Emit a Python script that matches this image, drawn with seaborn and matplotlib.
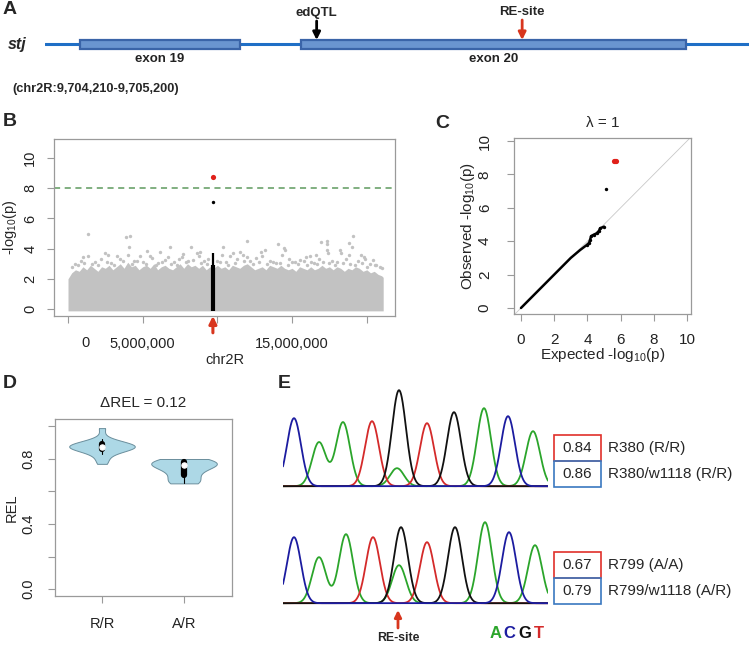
import numpy as np
import pandas as pd
import matplotlib
matplotlib.use("Agg")
import matplotlib.pyplot as plt
import seaborn as sns
from matplotlib.patches import Rectangle

sns.set_style("white")
plt.rcParams["font.family"] = ["Liberation Sans", "DejaVu Sans"]
plt.rcParams["mathtext.fontset"] = "custom"
plt.rcParams["mathtext.rm"] = "Liberation Sans"
plt.rcParams["mathtext.it"] = "Liberation Sans:italic"
plt.rcParams["mathtext.bf"] = "Liberation Sans:bold"

# ---------------- data ----------------
# Panel A: gene model
gene_name = "stj"
region_start, region_end = 9704210, 9705200
region_text = "(chr2R:9,704,210-9,705,200)"
exon_names = ["exon 19", "exon 20"]
exon_starts = [9704259, 9704570]
exon_ends = [9704484, 9705111]
edqtl_pos = 9704592
resite_pos = 9704881

# Panel B: Manhattan plot (chr2R), dense bulk envelope + sparse points
bulk_pos_mb = [0.0, 0.25, 0.5, 0.75, 1.0, 1.25, 1.5, 1.75, 2.0, 2.25, 2.5, 2.75,
               3.0, 3.25, 3.5, 3.75, 4.0, 4.25, 4.5, 4.75, 5.0, 5.25, 5.5, 5.75,
               6.0, 6.25, 6.5, 6.75, 7.0, 7.25, 7.5, 7.75, 8.0, 8.25, 8.5, 8.75,
               9.0, 9.25, 9.5, 9.75, 10.0, 10.25, 10.5, 10.75, 11.0, 11.25, 11.5, 11.75,
               12.0, 12.25, 12.5, 12.75, 13.0, 13.25, 13.5, 13.75, 14.0, 14.25, 14.5, 14.75,
               15.0, 15.25, 15.5, 15.75, 16.0, 16.25, 16.5, 16.75, 17.0, 17.25, 17.5, 17.75,
               18.0, 18.25, 18.5, 18.75, 19.0, 19.25, 19.5, 19.75, 20.0, 20.25, 20.5, 20.75,
               21.0, 21.1]
bulk_top = [2.0, 2.4, 2.6, 2.5, 2.8, 2.6, 2.9, 2.7, 2.5, 2.8, 2.7, 2.9,
            2.6, 2.8, 3.0, 2.7, 3.1, 2.8, 2.9, 2.6, 2.8, 2.9, 2.7, 3.0,
            2.6, 2.8, 2.9, 2.7, 2.6, 2.8, 3.0, 2.7, 3.0, 2.8, 2.9, 2.7,
            2.9, 2.6, 2.8, 2.7, 2.9, 2.7, 2.8, 2.6, 2.9, 2.8, 2.7, 2.9,
            3.0, 2.8, 2.6, 2.7, 2.8, 2.6, 2.9, 2.8, 2.7, 2.9, 2.7, 2.6,
            2.7, 2.5, 2.8, 2.7, 2.6, 2.8, 2.6, 2.7, 2.9, 2.7, 2.8, 2.6,
            2.8, 2.7, 2.5, 2.7, 2.6, 2.8, 2.7, 2.5, 2.6, 2.4, 2.5, 2.3,
            2.2, 2.1]
sparse_pos_mb = [1.32, 3.88, 4.15, 4.10, 2.45, 5.27, 6.83, 8.21, 1.37, 3.27, 4.79, 6.17,
                 8.61, 8.84, 7.66, 10.35, 11.96, 14.08, 14.48, 16.93, 17.34, 17.36, 17.35,
                 17.38, 18.83, 19.10, 19.03, 20.44, 11.51, 11.06, 12.95, 13.17, 14.51,
                 16.18, 18.19, 18.30, 19.64, 10.29, 10.85, 15.51, 20.55,
                 0.5, 0.9, 1.8, 2.2, 2.9, 3.5, 4.4, 5.0, 5.6, 6.0, 6.5, 7.1, 7.4, 8.0,
                 9.1, 9.4, 10.0, 10.6, 11.3, 12.2, 12.6, 13.5, 13.9, 14.8, 15.2, 15.8,
                 16.5, 16.8, 17.7, 18.0, 18.6, 19.4, 19.9, 20.2, 20.9,
                 0.3, 0.7, 1.1, 1.6, 2.0, 2.6, 3.1, 3.7, 4.3, 4.6, 5.2, 5.9, 6.3, 6.9,
                 7.3, 7.9, 8.4, 8.9, 9.3, 10.2, 10.7, 11.2, 11.8, 12.4, 12.8, 13.3,
                 13.7, 14.2, 14.7, 15.0, 15.4, 16.0, 16.3, 16.7, 17.1, 17.5, 17.9,
                 18.4, 18.9, 19.2, 19.7, 20.0, 20.6, 21.0,
                 1.0, 2.7, 4.0, 5.5, 6.7, 7.7, 8.8, 11.7, 12.0, 13.0, 14.3, 15.9,
                 16.6, 18.8, 19.8]
sparse_val = [4.97, 4.79, 4.84, 4.08, 3.69, 3.87, 4.13, 4.10, 3.52, 3.48, 3.48, 3.76,
              3.74, 3.80, 3.44, 4.08, 4.50, 4.30, 4.02, 4.43, 4.52, 4.30, 3.90,
              3.68, 4.37, 4.81, 4.08, 3.25, 3.80, 3.68, 3.80, 3.90, 3.90,
              3.48, 3.90, 3.68, 3.57, 3.57, 3.48, 3.25, 2.90,
              3.0, 3.2, 3.1, 3.3, 3.05, 3.3, 3.2, 3.1, 3.35, 3.05, 3.25, 3.1, 3.3, 3.2,
              3.15, 3.3, 3.2, 3.1, 3.3, 3.15, 3.35, 3.2, 3.05, 3.3, 3.1, 3.2,
              3.05, 3.3, 3.2, 3.1, 3.3, 3.15, 3.3, 3.0, 2.8,
              2.8, 2.95, 3.05, 3.0, 2.9, 3.1, 2.95, 3.15, 3.0, 3.2, 3.0, 2.95, 3.1, 3.0,
              2.95, 3.1, 3.25, 3.05, 3.0, 3.1, 2.95, 3.05, 3.15, 3.0, 3.1, 3.0,
              3.1, 3.05, 2.95, 3.1, 3.0, 2.95, 3.1, 3.0, 3.1, 3.05, 2.9,
              3.05, 3.0, 2.95, 3.05, 2.8, 2.9, 2.7,
              3.45, 3.6, 3.55, 3.5, 3.45, 3.65, 3.5, 3.55, 3.45, 3.5, 3.6, 3.45,
              3.55, 3.6, 3.45]
cis_pos_mb = 9.70
cis_dense_top = 2.9
cis_max = 3.7
cis_second_hit = 7.09
top_hit = 8.74
gw_threshold = 8.0
b_xticks = [0, 5e6, 10e6, 15e6, 20e6]
b_xticklabels = ["", "5,000,000", "", "15,000,000", ""]
b_yticks = [0, 2, 4, 6, 8, 10]

# Panel C: QQ plot
qq_expected = [0.0, 1.0, 2.0, 3.0, 3.56, 3.96, 4.10, 4.16, 4.22, 4.40, 4.56, 4.70, 4.76, 5.00]
qq_observed = [0.0, 1.0, 2.0, 3.0, 3.47, 3.77, 3.90, 4.07, 4.30, 4.40, 4.47, 4.62, 4.77, 4.87]
qq_second_exp, qq_second_obs = 5.10, 7.15
qq_top_exp = [5.62, 5.68, 5.74]
qq_top_obs = [8.82, 8.82, 8.82]
lambda_gc = 1

# Panel D: REL by genotype
rel_RR = [0.77, 0.80, 0.83, 0.85, 0.86, 0.865, 0.87, 0.87, 0.875, 0.88, 0.88,
          0.885, 0.89, 0.895, 0.90, 0.92, 0.99]
rel_AR = [0.65, 0.655, 0.66, 0.68, 0.70, 0.72, 0.73, 0.75, 0.76, 0.76, 0.77, 0.77,
          0.78, 0.78, 0.79, 0.80, 0.80]
genotypes = ["R/R", "A/R"]
delta_rel = 0.12

# Panel E: chromatograms (peak scan position, base, height)
chrom_top_pos = [11, 36, 60, 89, 116, 114, 144, 171, 201, 225, 250]
chrom_top_base = ["C", "A", "A", "T", "G", "A", "T", "G", "A", "C", "A"]
chrom_top_h = [68, 44, 64, 65, 96, 18, 63, 74, 78, 70, 55]
chrom_bot_pos = [11, 36, 63, 90, 118, 116, 144, 172, 202, 226, 252]
chrom_bot_base = ["C", "A", "A", "T", "G", "A", "T", "G", "A", "C", "A"]
chrom_bot_h = [66, 46, 69, 66, 76, 38, 61, 76, 81, 71, 58]
top_samples = ["R380 (R/R)", "R380/w1118 (R/R)"]
top_rel = [0.84, 0.86]
bot_samples = ["R799 (A/A)", "R799/w1118 (A/R)"]
bot_rel = [0.67, 0.79]
base_letters = ["A", "C", "G", "T"]

# ---------------- styles ----------------
W, H = 749, 645
GREY = "#C2C2C2"
FRAME = "#9A9A9A"
RED = "#D8361E"
base_colors = {"A": "#2BA52B", "C": "#1C1CA0", "G": "#111111", "T": "#D42A2A"}


def rect(x0, y0, x1, y1):
    return [x0 / W, 1 - y1 / H, (x1 - x0) / W, (y1 - y0) / H]


def style_axes(ax, xpad, ypad):
    for s in ax.spines.values():
        s.set_visible(True)
        s.set_color(FRAME)
        s.set_linewidth(0.9)
    ax.tick_params(axis="both", which="both", direction="out", length=5, width=0.8,
                   color=FRAME, labelcolor="#222222", labelsize=10.5,
                   bottom=True, left=True)
    ax.tick_params(axis="x", pad=xpad)
    ax.tick_params(axis="y", pad=ypad)


fig = plt.figure(figsize=(W / 100, H / 100), dpi=100)
fig.patch.set_facecolor("white")

# overlay axes in pixel coordinates for free text
ax0 = fig.add_axes([0, 0, 1, 1])
ax0.set_xlim(0, W)
ax0.set_ylim(H, 0)
ax0.axis("off")
ax0.patch.set_alpha(0)

for lab, (x, y) in zip("ABCDE", [(3, 10), (3, 121), (435, 123), (3, 383), (278, 383)]):
    ax0.text(x, y, lab, fontsize=14, fontweight="bold", ha="left", va="center")

# ---------------- Panel A ----------------
ax_a = fig.add_axes(rect(45, 34, 749, 54))
ax_a.set_xlim(region_start, region_end)
ax_a.set_ylim(-1, 1)
ax_a.axis("off")
ax_a.plot([region_start, region_end], [0, 0], color="#1F6FC6", lw=2.2, zorder=1)
for name, s, e in zip(exon_names, exon_starts, exon_ends):
    ax_a.add_patch(Rectangle((s, -0.45), e - s, 0.9, facecolor="#6A95D0",
                             edgecolor="#3A64A8", lw=1.6, zorder=2))
    ax_a.text((s + e) / 2, -1.5, name, ha="center", va="center", fontsize=9.5,
              fontweight="bold", color="#222222")
ax_a.annotate("", xy=(edqtl_pos, 0.4), xytext=(edqtl_pos, 2.3),
              arrowprops=dict(arrowstyle="-|>", color="black", lw=2,
                              mutation_scale=11, shrinkA=0, shrinkB=0),
              annotation_clip=False)
ax_a.text(edqtl_pos, 3.1, "edQTL", ha="center", va="center", fontsize=9.5,
          fontweight="bold")
ax_a.annotate("", xy=(resite_pos, 0.4), xytext=(resite_pos, 2.4),
              arrowprops=dict(arrowstyle="-|>", color=RED, lw=2,
                              mutation_scale=11, shrinkA=0, shrinkB=0),
              annotation_clip=False)
ax_a.text(resite_pos, 3.2, "RE-site", ha="center", va="center", fontsize=9.5,
          fontweight="bold")
ax0.text(8, 44, gene_name, fontsize=11.5, fontweight="bold", fontstyle="italic",
         ha="left", va="center")
ax0.text(12, 89, region_text, fontsize=9.2, fontweight="bold", ha="left", va="center")

# ---------------- Panel B ----------------
ax_b = fig.add_axes(rect(54, 139, 395, 316))
bx = np.array(bulk_pos_mb) * 1e6
ax_b.fill_between(bx, -0.12, bulk_top, color=GREY, lw=0)
sns.scatterplot(x=np.array(sparse_pos_mb) * 1e6, y=sparse_val, color=GREY, s=6,
                linewidth=0, ax=ax_b, legend=False)
ax_b.vlines(cis_pos_mb * 1e6, -0.12, cis_dense_top, color="black", lw=3.0)
ax_b.vlines(cis_pos_mb * 1e6, cis_dense_top, cis_max, color="black", lw=1.6)
sns.scatterplot(x=[cis_pos_mb * 1e6], y=[cis_second_hit], color="black", s=6,
                linewidth=0, ax=ax_b, legend=False)
sns.scatterplot(x=[cis_pos_mb * 1e6], y=[top_hit], color="#E0201A", s=14,
                linewidth=0, ax=ax_b, legend=False)
ax_b.axhline(gw_threshold, color="#5E9A5E", ls=(0, (4, 3)), lw=1.1)
ax_b.set_xlim(-0.937e6, 21.89e6)
ax_b.set_ylim(-0.46, 11.26)
ax_b.set_xticks(b_xticks)
ax_b.set_xticklabels(b_xticklabels)
ax_b.set_yticks(b_yticks)
style_axes(ax_b, 10, 7)
plt.setp(ax_b.get_yticklabels(), rotation=90, va="center")
ax_b.text(1.2e6, -27 / 177, "0", transform=ax_b.get_xaxis_transform(),
          ha="center", va="center", fontsize=10.5, color="#222222")
ax_b.set_xlabel("chr2R", fontsize=10.5, va="center")
ax_b.xaxis.set_label_coords(0.5, -44 / 177)
ax_b.set_ylabel(r"-log$_{10}$(p)", fontsize=10.5, va="center")
ax_b.yaxis.set_label_coords(-44 / 341, 0.5)
ax_b.annotate("", xy=(cis_pos_mb * 1e6, 0.0), xytext=(cis_pos_mb * 1e6, -0.095),
              xycoords=("data", "axes fraction"), textcoords=("data", "axes fraction"),
              arrowprops=dict(arrowstyle="-|>", color=RED, lw=2.2,
                              mutation_scale=11, shrinkA=0, shrinkB=0),
              annotation_clip=False)

# ---------------- Panel C ----------------
ax_c = fig.add_axes(rect(514, 138, 691, 314))
ax_c.plot([-1, 11], [-1, 11], color="#C8C8C8", lw=0.6, zorder=1)
sns.lineplot(x=qq_expected, y=qq_observed, color="black", lw=1.8, sort=False,
             estimator=None, ax=ax_c, zorder=2)
sns.scatterplot(x=qq_expected[5:], y=qq_observed[5:], color="black", s=6,
                linewidth=0, ax=ax_c, legend=False, zorder=3)
sns.scatterplot(x=[qq_second_exp], y=[qq_second_obs], color="black", s=6,
                linewidth=0, ax=ax_c, legend=False)
sns.scatterplot(x=qq_top_exp, y=qq_top_obs, color="#E0201A", s=14,
                linewidth=0, ax=ax_c, legend=False)
ax_c.set_xlim(-0.42, 10.24)
ax_c.set_ylim(-0.36, 10.18)
ax_c.set_xticks([0, 2, 4, 6, 8, 10])
ax_c.set_yticks([0, 2, 4, 6, 8, 10])
style_axes(ax_c, 8.5, 11)
ax_c.tick_params(labelsize=11)
plt.setp(ax_c.get_yticklabels(), rotation=90, va="center")
ax_c.set_xlabel(r"Expected -log$_{10}$(p)", fontsize=11, va="center")
ax_c.xaxis.set_label_coords(0.5, -41 / 176)
ax_c.set_ylabel(r"Observed -log$_{10}$(p)", fontsize=11, va="center")
ax_c.yaxis.set_label_coords(-46 / 177, 0.5)
ax_c.text(0.5, 1 + 15 / 176, f"λ = {lambda_gc}", transform=ax_c.transAxes,
          ha="center", va="center", fontsize=11)

# ---------------- Panel D ----------------
ax_d = fig.add_axes(rect(55, 419, 232, 596))
df_rel = pd.DataFrame({
    "genotype": ["R/R"] * len(rel_RR) + ["A/R"] * len(rel_AR),
    "REL": rel_RR + rel_AR,
})
sns.violinplot(data=df_rel, x="genotype", y="REL", order=genotypes, color="#ADD8E6",
               saturation=1, cut=0, inner="box", density_norm="width", width=0.8,
               linecolor="#6A8E9C", linewidth=0.7,
               inner_kws=dict(box_width=4.5, whis_width=0.8, marker="o", color="black"),
               ax=ax_d)
ax_d.set_xlim(-0.573, 1.585)
ax_d.set_ylim(-0.043, 1.046)
ax_d.set_yticks([0.0, 0.2, 0.4, 0.6, 0.8, 1.0])
ax_d.set_yticklabels(["0.0", "", "0.4", "", "0.8", ""])
style_axes(ax_d, 10, 9)
plt.setp(ax_d.get_yticklabels(), rotation=90, va="center")
ax_d.set_xlabel("")
ax_d.set_ylabel("REL", fontsize=10.5, va="center")
ax_d.yaxis.set_label_coords(-43 / 177, 0.5)
ax_d.text(0.5, 1 + 16 / 177, f"ΔREL = {delta_rel:.2f}", transform=ax_d.transAxes,
          ha="center", va="center", fontsize=11)

# ---------------- Panel E ----------------
def draw_chrom(ax, pos, bases, heights):
    xs = np.linspace(0, 265, 800)
    sigma = 7.0
    for b in ["A", "T", "G", "C"]:
        ys = np.full_like(xs, 0.8)
        for p, bb, h in zip(pos, bases, heights):
            if bb == b:
                ys = ys + h * np.exp(-((xs - p) ** 2) / (2 * sigma ** 2))
        ax.plot(xs, ys, color=base_colors[b], lw=1.3, solid_joinstyle="round")
    ax.set_xlim(0, 265)
    ax.set_ylim(-3, 103)
    ax.axis("off")


ax_e1 = fig.add_axes(rect(283, 384, 548, 490))
draw_chrom(ax_e1, chrom_top_pos, chrom_top_base, chrom_top_h)
ax_e2 = fig.add_axes(rect(283, 501, 548, 607))
draw_chrom(ax_e2, chrom_bot_pos, chrom_bot_base, chrom_bot_h)

for base_y, vals, names in [(487, top_rel, top_samples), (604, bot_rel, bot_samples)]:
    for i, (v, nm, col) in enumerate(zip(vals, names, ["#E0302A", "#3A78C0"])):
        y0 = base_y - 52 + i * 26
        ax0.add_patch(Rectangle((554, y0), 47, 26, fill=False, edgecolor=col, lw=1.2))
        ax0.text(577.5, y0 + 13, f"{v:.2f}", ha="center", va="center", fontsize=11)
        ax0.text(608, y0 + 13, nm, ha="left", va="center", fontsize=11)

ax0.annotate("", xy=(398, 610), xytext=(398, 628),
             arrowprops=dict(arrowstyle="-|>", color=RED, lw=2,
                             mutation_scale=10, shrinkA=0, shrinkB=0))
ax0.text(398, 638, "RE-site", ha="center", va="center", fontsize=8.8, fontweight="bold")
for b, x in zip(base_letters, [496, 509, 525, 539]):
    ax0.text(x, 633, b, ha="center", va="center", fontsize=12, fontweight="bold",
             color=base_colors[b])

fig.savefig("out.png", dpi=100)
